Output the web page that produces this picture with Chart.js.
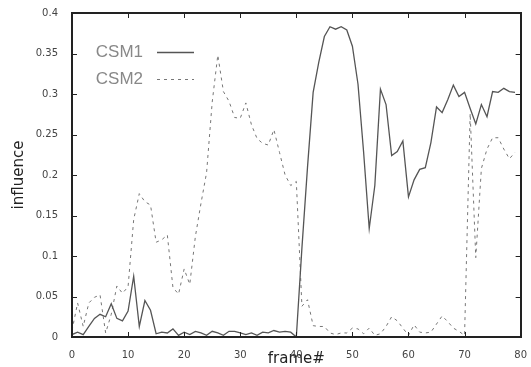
<!DOCTYPE html>
<html>
<head>
<meta charset="utf-8">
<script src="https://cdn.jsdelivr.net/npm/chart.js@4.4.1/dist/chart.umd.min.js"></script>
<style>
  html, body { margin: 0; padding: 0; background: #fff; }
  #wrap { width: 531px; height: 367px; }
</style>
</head>
<body>
<div id="wrap"><canvas id="myChart" width="531" height="367"></canvas></div>
<script>
// frame numbers on the x axis
var frames = [0,1,2,3,4,5,6,7,8,9,10,11,12,13,14,15,16,17,18,19,
  20,21,22,23,24,25,26,27,28,29,30,31,32,33,34,35,36,37,38,39,
  40,41,42,43,44,45,46,47,48,49,50,51,52,53,54,55,56,57,58,59,
  60,61,62,63,64,65,66,67,68,69,70,71,72,73,74,75,76,77,78,79];

// influence values
var csm1 = [0.003,0.006,0.003,0.013,0.023,0.028,0.025,0.041,0.023,0.020,
  0.032,0.075,0.013,0.045,0.033,0.004,0.006,0.005,0.010,0.002,
  0.006,0.003,0.007,0.005,0.002,0.007,0.005,0.002,0.007,0.007,
  0.005,0.003,0.005,0.002,0.006,0.005,0.008,0.006,0.007,0.006,
  0.000,0.110,0.210,0.302,0.339,0.371,0.383,0.380,0.383,0.379,
  0.359,0.312,0.228,0.134,0.187,0.306,0.287,0.224,0.229,0.242,
  0.173,0.194,0.207,0.209,0.240,0.284,0.277,0.293,0.311,0.297,
  0.302,0.282,0.263,0.287,0.272,0.303,0.302,0.307,0.303,0.302];

var csm2 = [0.008,0.042,0.013,0.042,0.049,0.052,0.005,0.028,0.063,0.054,
  0.062,0.145,0.177,0.167,0.163,0.117,0.120,0.126,0.061,0.053,
  0.084,0.065,0.124,0.165,0.203,0.290,0.348,0.303,0.291,0.271,
  0.270,0.289,0.262,0.245,0.239,0.237,0.256,0.228,0.200,0.187,
  0.192,0.038,0.046,0.014,0.013,0.013,0.005,0.003,0.005,0.005,
  0.011,0.010,0.004,0.011,0.002,0.004,0.013,0.025,0.020,0.011,
  0.002,0.015,0.006,0.005,0.006,0.016,0.026,0.019,0.011,0.007,
  0.002,0.276,0.098,0.208,0.232,0.246,0.246,0.232,0.220,0.228];

var seriesNames = ['CSM1', 'CSM2'];
var xTicks = [0, 10, 20, 30, 40, 50, 60, 70, 80];
var yTicks = [0, 0.05, 0.1, 0.15, 0.2, 0.25, 0.3, 0.35, 0.4];

function toPoints(vals) {
  return vals.map(function (v, i) { return {x: frames[i], y: v}; });
}

// box round the plot with inward tick marks + legend inside, gnuplot style
var framePlugin = {
  id: 'frameTicks',
  afterDraw: function (chart) {
    var c = chart.ctx;
    var a = chart.chartArea;
    var xs = chart.scales.x, ys = chart.scales.y;
    var len = 5;
    c.save();
    c.setLineDash([]);
    c.globalAlpha = 1;
    c.fillStyle = '#222';
    xTicks.forEach(function (t) {
      var px = Math.round(xs.getPixelForValue(t));
      c.fillRect(px, a.bottom - len, 1, len);
      c.fillRect(px, a.top, 1, len);
    });
    yTicks.forEach(function (t) {
      var py = Math.round(ys.getPixelForValue(t));
      c.fillRect(a.left, py, len, 1);
      c.fillRect(a.right - len, py, len, 1);
    });
    var l = Math.round(a.left), r = Math.round(a.right);
    var t = Math.round(a.top), b = Math.round(a.bottom);
    c.fillRect(l - 1, t - 1, r - l + 2, 2);
    c.fillRect(l - 1, b - 1, r - l + 2, 2);
    c.fillRect(l - 1, t - 1, 2, b - t + 2);
    c.fillRect(r - 1, t - 1, 2, b - t + 2);

    c.font = '17px "Liberation Sans", Arial, sans-serif';
    c.textAlign = 'right';
    c.textBaseline = 'middle';
    chart.data.datasets.forEach(function (ds, i) {
      var y = a.top + 39 + i * 27;
      c.fillStyle = '#888';
      c.fillText(ds.label, a.left + 71, y);
      c.strokeStyle = ds.borderColor;
      c.lineWidth = ds.borderWidth;
      c.setLineDash(ds.borderDash || []);
      c.beginPath();
      c.moveTo(a.left + 85, y + 0.5);
      c.lineTo(a.left + 122, y + 0.5);
      c.stroke();
      c.setLineDash([]);
    });
    c.restore();
  }
};

var el = document.getElementById('myChart');
new Chart(el, {
  type: 'line',
  data: {
    datasets: [{
      label: seriesNames[0],
      data: toPoints(csm1),
      borderColor: '#555',
      borderWidth: 1.3,
      pointRadius: 0,
      tension: 0
    }, {
      label: seriesNames[1],
      data: toPoints(csm2),
      borderColor: '#777',
      borderWidth: 1,
      borderDash: [3, 4],
      pointRadius: 0,
      tension: 0
    }]
  },
  options: {
    responsive: false,
    animation: false,
    layout: { padding: { top: 13, right: 10, left: 0, bottom: 0 } },
    plugins: {
      legend: { display: false },
      tooltip: { enabled: false }
    },
    scales: {
      x: {
        type: 'linear',
        min: 0,
        max: 80,
        grid: { display: false },
        border: { display: false },
        afterFit: function (s) { s.height = 30; },
        afterBuildTicks: function (s) { s.ticks = xTicks.map(function (v) { return {value: v}; }); },
        ticks: {
          padding: 4,
          maxRotation: 0,
          color: '#444',
          font: { family: 'DejaVu Sans', size: 10 }
        },
        title: {
          display: true,
          text: 'frame#',
          color: '#222',
          padding: { top: 0, bottom: 0 },
          font: { family: 'DejaVu Sans', size: 15, lineHeight: 1 }
        }
      },
      y: {
        min: 0,
        max: 0.4,
        grid: { display: false },
        border: { display: false },
        afterFit: function (s) { s.width = 72; },
        afterBuildTicks: function (s) { s.ticks = yTicks.map(function (v) { return {value: v}; }); },
        ticks: {
          padding: 6,
          color: '#444',
          font: { family: 'DejaVu Sans', size: 10 },
          callback: function (v) { return String(Number(v.toFixed(2))); }
        },
        title: {
          display: true,
          text: 'influence',
          color: '#222',
          padding: { top: 12, bottom: 0 },
          font: { family: 'DejaVu Sans', size: 15, lineHeight: 1 }
        }
      }
    }
  },
  plugins: [framePlugin]
});
</script>
</body>
</html>
